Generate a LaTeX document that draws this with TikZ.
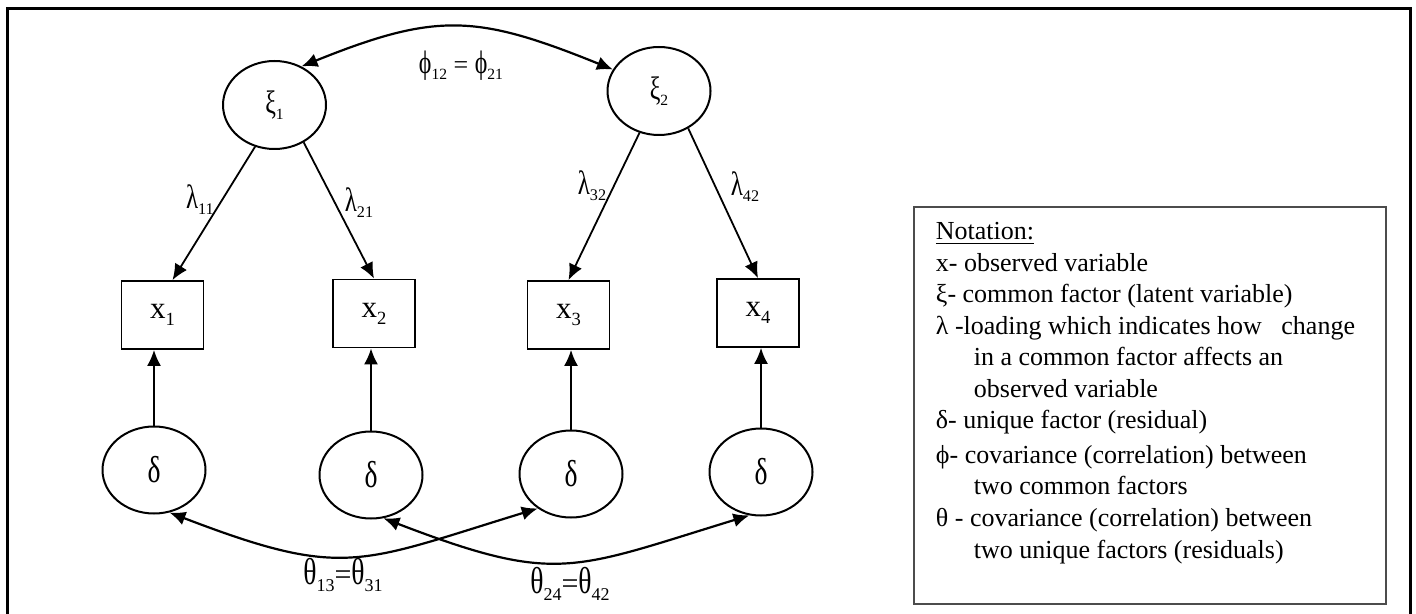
\documentclass[tikz,border=0pt]{standalone}
\usepackage{fontspec}
\usepackage{graphicx}
\setmainfont{Liberation Serif}
\usetikzlibrary{arrows.meta,shapes.geometric,positioning}

\newcommand{\idx}[1]{\raisebox{-0.22em}{\scalebox{0.6}{#1}}}
\newcommand{\gk}[1]{\scalebox{0.92}[1.25]{#1}}
\newcommand{\fsz}[1]{\fontsize{#1}{#1}\selectfont}

\tikzset{
    latent/.style={ellipse, draw, line width=1pt, minimum width=51.5pt, minimum height=44pt, inner sep=0pt, font=\fsz{13}},
    unique/.style={ellipse, draw, line width=1pt, minimum width=51.5pt, minimum height=43.5pt, inner sep=0pt, font=\fsz{15}},
    observed/.style={rectangle, draw, line width=0.9pt, minimum width=41pt, minimum height=34pt, inner sep=0pt, font=\fsz{15.5}},
    lbl/.style={inner sep=0pt, font=\fsz{13.5}},
    covlbl/.style={inner sep=0pt, font=\fsz{15}},
    legendline/.style={anchor=base west, inner sep=0pt, font=\fsz{13}}
}

\begin{document}
\begin{tikzpicture}[x=0.5pt,y=-0.5pt,>={Latex[length=8pt,width=7pt]},line width=0.9pt]
        \useasboundingbox (0,0) rectangle (1416,614);
        \draw[line width=1.5pt] (7,9) rectangle (1410,640);

        % common factors
        \node[latent] (xi1) at (274.5,105) {\gk{ξ}\idx{1}};
        \node[latent] (xi2) at (659,91) {\gk{ξ}\idx{2}};

        % observed variables and their unique factors
        \foreach \i/\bx/\by/\dx/\dy in {1/162.5/315/154/470, 2/374/313.5/371/475, 3/568.5/315/571/474, 4/758/313/761/472}{
            \node[observed] (x\i) at (\bx,\by) {x\idx{\i}};
            \node[unique] (d\i) at (\dx,\dy) {\gk{δ}};
            \draw[->] (d\i) -- (d\i |- x\i.south);
        }

        % loadings
        \draw[->] (xi1.245) -- ([xshift=5pt]x1.north);
        \draw[->] (xi1.-52) -- (x2.north);
        \draw[->] (xi2.245) -- (x3.north);
        \draw[->] (xi2.-52) -- (x4.north);

        \node[lbl] (lam11) at (200,200) {\gk{λ}\idx{11}};
        \node[lbl] (lam21) at (359,203) {\gk{λ}\idx{21}};
        \node[lbl] (lam32) at (592,186) {\gk{λ}\idx{32}};
        \node[lbl] (lam42) at (745,187) {\gk{λ}\idx{42}};

        % covariances
        \draw[<->, line width=1.1pt] (xi1.55) to[out=22,in=158,looseness=1.2] (xi2.155);
        \draw[<->, line width=1.1pt] (d1.-70) to[out=-21,in=197,looseness=1.3] (d3.-134);
        \draw[<->, line width=1.1pt] (d2.-74) to[out=-21,in=197,looseness=1.3] (d4.-105);

        \node[lbl, font=\fsz{13}] (phi) at (461,66) {\gk{ϕ}\idx{12} = \gk{ϕ}\idx{21}};
        \node[covlbl] (t13) at (343,575) {\gk{θ}\idx{13}=\gk{θ}\idx{31}};
        \node[covlbl] (t24) at (570,584) {\gk{θ}\idx{24}=\gk{θ}\idx{42}};

        % notation box
        \draw[black!70] (914,207) rectangle (1386,604);
        \foreach \n/\xx/\yy/\txt in {
            1/935/240/{\underline{Notation:}},
            2/935/271/{x- observed variable},
            3/935/302/{ξ- common factor (latent variable)},
            4/935/334/{λ -loading which indicates how \ \ change},
            5/973/365/{in a common factor affects an},
            6/973/397/{observed variable},
            7/935/428/{δ- unique factor (residual)},
            8/935/463/{ϕ- covariance (correlation) between},
            9/973/494/{two common factors},
            10/935/526/{θ - covariance (correlation) between},
            11/973/558/{two unique factors (residuals)}}
            \node[legendline] (note\n) at (\xx,\yy) {\txt};
    \end{tikzpicture}
\end{document}
